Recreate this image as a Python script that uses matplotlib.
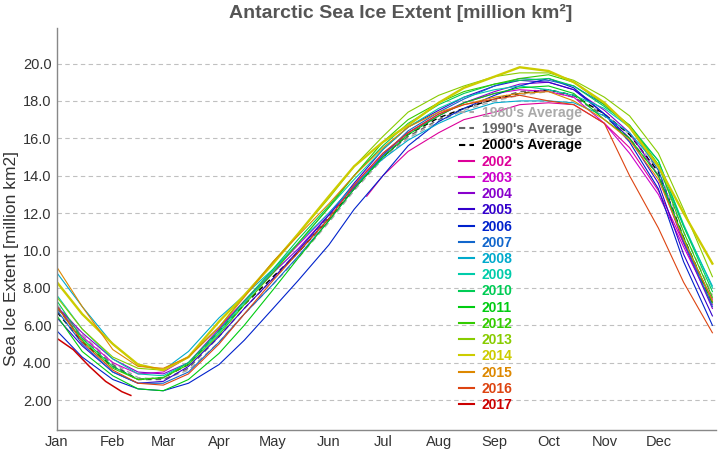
import matplotlib
matplotlib.use("Agg")
import matplotlib.pyplot as plt
from matplotlib.lines import Line2D
import numpy as np

plt.rcParams['font.family'] = ['Liberation Sans', 'DejaVu Sans']

## Data (million km2)
days = [1, 15, 32, 46, 60, 74, 91, 105, 121, 135, 152, 166, 182,
        196, 213, 227, 244, 258, 274, 288, 305, 319, 335, 349, 365]

avg_1980s = [7.1, 5.5, 4.0, 3.2, 3.1, 3.6, 5.1, 6.6, 8.2, 9.6, 11.5, 13.2, 14.9,
             16.0, 16.9, 17.5, 18.0, 18.3, 18.5, 18.2, 17.3, 16.2, 14.3, 11.0, 7.6]
avg_1990s = [6.9, 5.3, 3.9, 3.1, 3.1, 3.7, 5.4, 6.9, 8.5, 9.9, 11.8, 13.4, 15.0,
             16.1, 17.0, 17.6, 18.1, 18.5, 18.6, 18.2, 17.2, 16.0, 14.0, 10.6, 7.1]
avg_2000s = [6.7, 5.1, 3.8, 3.1, 3.2, 3.9, 5.7, 7.1, 8.6, 9.9, 11.7, 13.3, 15.0,
             16.2, 17.1, 17.6, 18.1, 18.4, 18.6, 18.3, 17.3, 16.2, 14.2, 10.7, 7.2]

days_2002 = [173, 182, 196, 213, 227, 244, 258, 274, 288, 305, 319, 335, 349, 365]
ext_2002 = [12.9, 14.0, 15.3, 16.3, 17.0, 17.4, 17.8, 17.9, 17.8, 16.8, 15.5, 13.2, 10.4, 7.4]

ext_2003 = [7.0, 5.4, 4.0, 3.4, 3.5, 4.3, 5.9, 7.3, 8.9, 10.3, 12.0, 13.5, 15.2,
            16.3, 17.3, 17.9, 18.4, 18.6, 18.5, 18.2, 16.8, 15.2, 13.0, 10.2, 7.1]
ext_2004 = [7.0, 5.6, 4.2, 3.5, 3.4, 4.0, 5.8, 7.3, 8.8, 10.1, 11.9, 13.4, 15.1,
            16.3, 17.2, 17.9, 18.5, 18.9, 19.0, 18.6, 17.5, 16.3, 14.0, 10.4, 6.9]
ext_2005 = [6.4, 4.9, 3.5, 2.9, 3.0, 3.8, 5.4, 6.9, 8.5, 10.0, 11.9, 13.6, 15.4,
            16.6, 17.5, 18.2, 18.8, 19.1, 19.0, 18.6, 17.3, 16.0, 13.6, 9.8, 6.5]
ext_2006 = [5.7, 4.3, 3.1, 2.6, 2.5, 2.9, 3.9, 5.2, 6.9, 8.4, 10.3, 12.2, 14.0,
            15.6, 16.9, 17.6, 18.3, 18.8, 19.2, 18.7, 17.3, 15.8, 13.3, 9.4, 6.0]
ext_2007 = [6.8, 5.0, 3.5, 2.9, 2.9, 3.5, 5.1, 6.6, 8.2, 9.7, 11.6, 13.3, 15.1,
            16.4, 17.4, 18.1, 18.8, 19.2, 19.1, 18.8, 17.8, 16.6, 14.3, 10.5, 7.0]
ext_2008 = [8.8, 7.0, 5.0, 3.9, 3.6, 4.6, 6.4, 7.6, 9.0, 10.4, 12.0, 13.5, 14.9,
            15.9, 16.8, 17.4, 17.9, 18.0, 18.0, 17.9, 17.2, 16.3, 14.5, 11.3, 8.1]
ext_2009 = [7.6, 5.8, 4.2, 3.4, 3.3, 4.0, 5.6, 7.2, 8.9, 10.4, 12.3, 13.8, 15.4,
            16.6, 17.6, 18.2, 18.6, 18.8, 18.6, 18.3, 17.6, 16.6, 14.8, 11.4, 8.0]
ext_2010 = [7.3, 5.3, 3.8, 3.1, 3.2, 4.0, 5.7, 7.3, 9.0, 10.6, 12.4, 14.0, 15.6,
            16.8, 17.8, 18.4, 18.9, 19.1, 19.2, 18.8, 17.7, 16.7, 14.8, 11.3, 7.8]
ext_2011 = [6.5, 4.6, 3.3, 2.6, 2.5, 3.1, 4.5, 6.0, 7.9, 9.6, 11.6, 13.3, 15.0,
            16.2, 17.2, 17.9, 18.4, 18.7, 18.8, 18.4, 17.0, 16.0, 14.0, 10.7, 7.2]
ext_2012 = [7.0, 5.2, 3.7, 3.1, 3.2, 3.9, 5.5, 7.1, 8.8, 10.4, 12.3, 14.0, 15.8,
            17.0, 17.9, 18.5, 18.9, 19.2, 19.4, 19.0, 17.8, 16.7, 14.6, 11.0, 7.5]
ext_2013 = [7.5, 5.8, 4.3, 3.7, 3.6, 4.3, 5.9, 7.6, 9.4, 10.9, 12.8, 14.5, 16.1,
            17.4, 18.3, 18.8, 19.3, 19.5, 19.5, 19.1, 18.2, 17.2, 15.2, 12.2, 8.6]
ext_2014 = [8.3, 6.6, 5.0, 3.9, 3.6, 4.3, 6.2, 7.6, 9.3, 10.9, 12.9, 14.5, 15.8,
            16.7, 17.9, 18.7, 19.3, 19.8, 19.6, 19.0, 17.9, 16.6, 14.5, 12.0, 9.3]
ext_2015 = [9.1, 7.0, 4.7, 3.8, 3.7, 4.3, 5.9, 7.5, 9.4, 10.8, 12.5, 14.0, 15.5,
            16.6, 17.4, 17.8, 18.2, 18.4, 18.5, 18.0, 17.0, 15.9, 13.8, 10.6, 7.3]
ext_2016 = [7.0, 5.1, 3.6, 2.9, 2.8, 3.4, 5.0, 6.6, 8.4, 9.9, 11.7, 13.5, 15.2,
            16.3, 17.3, 17.8, 18.1, 18.3, 18.0, 17.8, 16.8, 14.0, 11.2, 8.3, 5.6]

days_2017 = [1, 10, 19, 28, 37, 42]
ext_2017 = [5.3, 4.7, 3.8, 3.0, 2.45, 2.25]

years = ['2002', '2003', '2004', '2005', '2006', '2007', '2008', '2009',
         '2010', '2011', '2012', '2013', '2014', '2015', '2016', '2017']
year_colors = ['#dd0099', '#cc00cc', '#8800cc', '#3300cc', '#0022cc', '#1166cc',
               '#00aacc', '#00ccaa', '#00cc55', '#00cc11', '#33cc00', '#88cc00',
               '#cccc00', '#dd8800', '#dd4411', '#cc0000']
year_x = [days_2002] + [days] * 14 + [days_2017]
year_y = [ext_2002, ext_2003, ext_2004, ext_2005, ext_2006, ext_2007, ext_2008,
          ext_2009, ext_2010, ext_2011, ext_2012, ext_2013, ext_2014, ext_2015,
          ext_2016, ext_2017]

avg_labels = ["1980's Average", "1990's Average", "2000's Average"]
avg_colors = ['#aaaaaa', '#666666', '#000000']
avg_y = [avg_1980s, avg_1990s, avg_2000s]

month_days = [1, 32, 60, 91, 121, 152, 182, 213, 244, 274, 305, 335]
month_names = ['Jan', 'Feb', 'Mar', 'Apr', 'May', 'Jun',
               'Jul', 'Aug', 'Sep', 'Oct', 'Nov', 'Dec']
ytick_vals = [2, 4, 6, 8, 10, 12, 14, 16, 18, 20]
ytick_labels = ['2.00', '4.00', '6.00', '8.00', '10.0', '12.0',
                '14.0', '16.0', '18.0', '20.0']

fig = plt.figure(figsize=(7.2, 4.5), dpi=100)
ax = fig.add_axes([57/720, 20/450, 659/720, 402/450])

for lab, col, vals in zip(avg_labels, avg_colors, avg_y):
    ax.plot(days, vals, color=col, lw=1.0, dashes=(4, 3))

for yr, col, xs, ys in zip(years, year_colors, year_x, year_y):
    lw = 1.7 if yr == '2014' else (1.1 if yr == '2017' else 0.8)
    ax.plot(xs, ys, color=col, lw=lw)

ax.set_xlim(1, 367)
ax.set_ylim(0.4, 21.9)
ax.set_xticks(month_days)
ax.set_xticklabels(month_names)
ax.set_yticks(ytick_vals)
ax.set_yticklabels(ytick_labels)
ax.tick_params(length=0, labelsize=10.5, colors='#333333')
ax.tick_params(axis='x', pad=3.5)
ax.tick_params(axis='y', pad=4)
ax.grid(axis='y', color='#c0c0c0', lw=0.8, dashes=(4, 3))
ax.set_axisbelow(True)
for s in ['top', 'right']:
    ax.spines[s].set_visible(False)
for s in ['left', 'bottom']:
    ax.spines[s].set_color('#888888')
    ax.spines[s].set_linewidth(1.0)

# legend
handles = [Line2D([], [], color=c, lw=1.5, dashes=(3, 2)) for c in avg_colors]
handles += [Line2D([], [], color=c, lw=1.5) for c in year_colors]
labels = avg_labels + years
leg = fig.legend(handles, labels, loc='upper left', bbox_to_anchor=(459/720, 1 - 106/450),
                 frameon=False, handlelength=1.05, handletextpad=0.6, labelspacing=0.16,
                 borderpad=0, borderaxespad=0,
                 prop={'weight': 'bold', 'size': 10})
for t, c in zip(leg.get_texts(), avg_colors + year_colors):
    t.set_color(c)

fig.text(401/720, 1 - 13/450, 'Antarctic Sea Ice Extent [million km²]',
         ha='center', va='center', fontsize=14, fontweight='bold', color='#555555')
fig.text(12/720, 1 - 258/450, 'Sea Ice Extent [million km2]', rotation=90,
         ha='center', va='center', fontsize=12.5, color='#333333')

fig.savefig('out.png', dpi=100)
